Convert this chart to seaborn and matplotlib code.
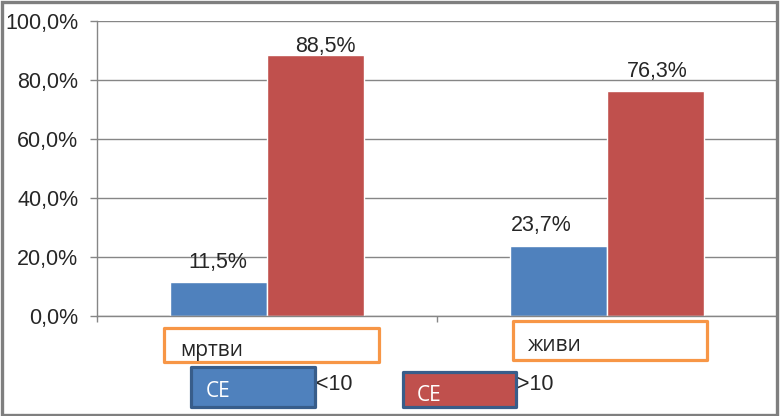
import pandas as pd
import seaborn as sns
import matplotlib.pyplot as plt
from matplotlib.patches import Rectangle
from matplotlib.ticker import FuncFormatter

# ==================================================
# data
# ==================================================
categories = ["мртви", "живи"]
groups = ["<10", ">10"]
values_lt10 = [11.5, 23.7]
values_gt10 = [88.5, 76.3]
legend_prefix = "CE"
y_ticks = [0, 20, 40, 60, 80, 100]

df = pd.DataFrame({
    "категорија": categories * 2,
    "група": [groups[0]] * len(categories) + [groups[1]] * len(categories),
    "процент": values_lt10 + values_gt10,
})

# ==================================================
# style
# ==================================================
sns.set_style("white")
plt.rcParams["font.family"] = ["Liberation Sans", "DejaVu Sans"]

BLUE = "#4F81BD"
RED = "#C0504D"
ORANGE = "#F79646"
NAVY = "#385D8A"
GRAY = "#868686"

W, H = 780, 416
PX = 72 / 100  # pixel -> point


def fx(x):
    return x / W


def fy(y):
    return 1 - y / H


fig = plt.figure(figsize=(W / 100, H / 100), dpi=100)
ax = fig.add_axes([fx(97), fy(316), fx(777) - fx(97), fy(21) - fy(316)])

sns.barplot(
    data=df,
    x="категорија",
    y="процент",
    hue="група",
    hue_order=groups,
    order=categories,
    palette=[BLUE, RED],
    width=0.571,
    saturation=1,
    legend=False,
    ax=ax,
)

ax.set_ylim(0, 100)
ax.set_xlim(-0.5, 1.5)
ax.set_yticks(y_ticks)
ax.yaxis.set_major_formatter(FuncFormatter(lambda v, p: f"{v:.1f}%".replace(".", ",")))
ax.set_xticks([-0.5, 0.5, 1.5])
ax.set_xticklabels([])
ax.set_xlabel("")
ax.set_ylabel("")

ax.grid(axis="y", color=GRAY, linewidth=1.0)
ax.set_axisbelow(True)
for side in ["top", "right"]:
    ax.spines[side].set_visible(False)
for side in ["left", "bottom"]:
    ax.spines[side].set_color(GRAY)
    ax.spines[side].set_linewidth(1.0)

ax.tick_params(axis="y", direction="out", length=5, width=1, color=GRAY,
               pad=8.5, labelsize=15.5, left=True)
ax.tick_params(axis="x", direction="out", length=4.5, width=1, color=GRAY, bottom=True)

# value labels (hand-placed like in the original)
label_shift = [[(-1, 14), (-17, 15)], [(10, 3), (2, 14)]]
for container, shifts in zip(ax.containers, label_shift):
    for bar, (dx, dy) in zip(container, shifts):
        h = bar.get_height()
        ax.annotate(
            f"{h:.1f}%".replace(".", ","),
            (bar.get_x() + bar.get_width() / 2, h),
            xytext=(dx * PX, dy * PX),
            textcoords="offset points",
            ha="center",
            va="baseline",
            fontsize=15.5,
        )

# ==================================================
# category boxes and legend boxes
# ==================================================
box_font = ["Open Sans", "DejaVu Sans"]


def add_box(x0, y0, x1, y1, face, edge):
    fig.add_artist(Rectangle(
        (fx(x0), fy(y1)), fx(x1) - fx(x0), fy(y0) - fy(y1),
        transform=fig.transFigure, facecolor=face, edgecolor=edge,
        linewidth=2.3, joinstyle="round",
    ))


add_box(164, 328, 379, 362, "white", ORANGE)
fig.text(fx(180), fy(356), categories[0], fontsize=15, family=box_font, va="baseline")

add_box(513, 321, 707, 360, "white", ORANGE)
fig.text(fx(528), fy(351), categories[1], fontsize=15, family=box_font, va="baseline")

add_box(191, 367, 315, 407, BLUE, NAVY)
fig.text(fx(206), fy(397), legend_prefix, fontsize=15, family=box_font,
         color="white", va="baseline")
fig.text(fx(316), fy(390), groups[0], fontsize=15.5, va="baseline")

add_box(403, 372, 516, 407, RED, NAVY)
fig.text(fx(417), fy(401), legend_prefix, fontsize=15, family=box_font,
         color="white", va="baseline")
fig.text(fx(517), fy(390), groups[1], fontsize=15.5, va="baseline")

# outer chart border
fig.add_artist(Rectangle((fx(1.5), fy(414.5)), fx(777) - fx(1.5), fy(1.5) - fy(414.5),
                         transform=fig.transFigure, fill=False,
                         edgecolor="#7F7F7F", linewidth=2.4))

fig.savefig("out.png", dpi=100)
plt.close(fig)
